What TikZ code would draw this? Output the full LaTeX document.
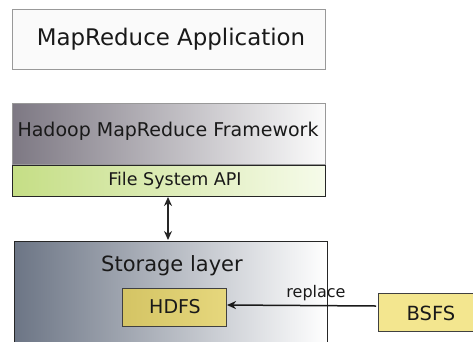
\documentclass[tikz,border=0pt]{standalone}
\usepackage{fontspec}
\setmainfont{DejaVu Sans}
\usetikzlibrary{arrows.meta}
\begin{document}
\begin{tikzpicture}[x=1pt,y=-1pt,
  box/.style={draw=#1, line width=1pt},
  lbl/.style={font=\fontsize{#1}{#1}\selectfont, text=black!90, inner sep=0pt},
  >={Stealth[length=9pt,width=8pt]}]
\useasboundingbox (0,0) rectangle (473,341);
\begin{scope}
\clip (0,0) rectangle (473,341);
% MapReduce Application
\path[box=gray!80, fill=white!98!black] (12,9) rectangle (325,69);
\node[lbl=22.9] (app) at (171,39) {MapReduce Application};
% Hadoop framework
\path[box=gray!80, left color={rgb,255:red,125;green,120;blue,131}, right color={rgb,255:red,251;green,251;blue,251}] (12,103) rectangle (325,164);
\node[lbl=19] (hmf) at (168,131) {Hadoop MapReduce Framework};
% File System API
\path[box=black!85, left color={rgb,255:red,197;green,222;blue,133}, right color={rgb,255:red,246;green,251;blue,234}] (12,165) rectangle (325,196);
\node[lbl=17.5] (fsapi) at (175,181) {File System API};
\coordinate (fsb) at (168,197);
% Storage layer
\path[box=black!85, left color={rgb,255:red,108;green,117;blue,133}, right color={rgb,255:red,255;green,255;blue,255}] (14,241) rectangle (327,360);
\node[lbl=21] (sl) at (172,266) {Storage layer};
\coordinate (slt) at (168,240);
% HDFS
\path[box=black!75, left color={rgb,255:red,212;green,196;blue,100}, right color={rgb,255:red,230;green,215;blue,125}] (122,288) rectangle (226,326);
\node[lbl=19] (hdfs) at (175,307) {HDFS};
\coordinate (hdfsr) at (227,305);
% BSFS
\path[box=black!75, fill={rgb,255:red,243;green,230;blue,143}] (378,293) rectangle (480,331);
\node[lbl=19.5] (bsfs) at (431,313) {BSFS};
\coordinate (bsfsl) at (376,306);
\end{scope}
% connectors
\draw[<->, line width=1.5pt, black!85] (fsb) -- (slt);
\draw[->, line width=1.5pt, black!90] (bsfsl) -- (hdfsr);
\node[lbl=16] (rep) at (316,293) {replace};
\end{tikzpicture}
\end{document}
